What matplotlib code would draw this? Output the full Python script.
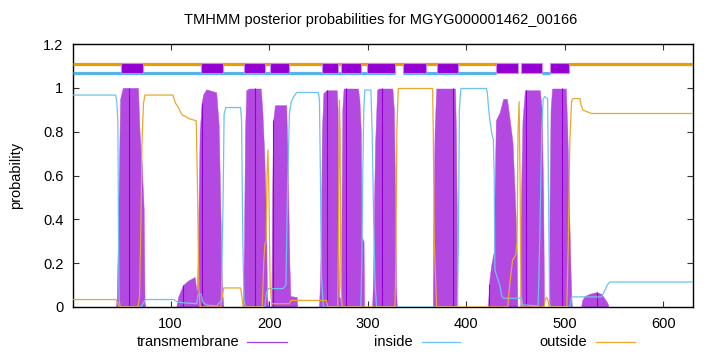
import numpy as np
import matplotlib
matplotlib.use("Agg")
import matplotlib.pyplot as plt
from matplotlib.lines import Line2D
from matplotlib.patches import Rectangle

plt.rcParams['font.family'] = ['Liberation Sans', 'DejaVu Sans']

title = "TMHMM posterior probabilities for MGYG000001462_00166"
seq_len = 630

# transmembrane posterior (residue, probability)
tm_pos = [1, 44.6, 45.5, 47, 48.8, 51.5, 66.9, 68.5, 70.7, 72.7, 73.6, 74.5,
          105.8, 106.5, 108, 112.6, 117.6, 124.4, 126.8, 128.5, 129.5, 131.5, 133, 136.2, 146.3, 148.8, 150.5, 152, 153.5,
          173.4, 174.5, 175.5, 176.8, 180, 191.5, 193, 195, 196.8, 197.8, 199,
          202.1, 203, 204, 205.9, 217.3, 218.5, 219.5, 220.5, 221.5, 227.9, 228.5,
          250.5, 251.5, 252.5, 253.5, 255, 258, 268.5, 269.5, 270.3, 270.8, 272, 272.8,
          273.3, 274.2, 275.5, 290, 291.5, 293, 293.8, 295.8, 296.3,
          304.5, 305.5, 306.5, 307.5, 309.5, 311, 325, 326.5, 327.8, 328.6, 329.5,
          366, 366.6, 367.8, 369.5, 388.5, 389.5, 390.3, 391,
          421.8, 422.5, 423.5, 425.6, 427.8, 429, 430, 434, 437.4, 441.2, 444.2, 446.9, 449.3, 451, 451.8,
          454.8, 455.5, 457, 459.4, 474.6, 476.5, 478, 478.9,
          483.8, 484.5, 485.5, 487, 501, 502.5, 504.5, 506, 507,
          516.5, 517.5, 520, 525, 532, 537, 540, 543, 544.5, 630]
tm_prob = [0, 0, 0.05, 0.45, 0.95, 1.0, 1.0, 0.8, 0.65, 0.45, 0.02, 0,
           0, 0.02, 0.05, 0.10, 0.12, 0.137, 0.06, 0.5, 0.8, 0.93, 0.97, 0.993, 0.98, 0.83, 0.45, 0.1, 0,
           0, 0.3, 0.8, 0.99, 0.997, 0.997, 0.9, 0.7, 0.4, 0.05, 0,
           0, 0.5, 0.85, 0.921, 0.921, 0.7, 0.45, 0.2, 0.05, 0.046, 0,
           0, 0.1, 0.3, 0.8, 0.975, 0.989, 0.989, 0.9, 0.3, 0.05, 0.04, 0,
           0.4, 0.9, 0.997, 0.997, 0.95, 0.8, 0.32, 0.3, 0,
           0, 0.15, 0.5, 0.75, 0.99, 0.997, 0.997, 0.9, 0.5, 0.1, 0,
           0, 0.4, 0.8, 0.997, 0.997, 0.8, 0.45, 0,
           0, 0.05, 0.13, 0.2, 0.25, 0.6, 0.852, 0.89, 0.95, 0.95, 0.85, 0.75, 0.5, 0.3, 0,
           0, 0.5, 0.85, 0.989, 0.989, 0.9, 0.5, 0,
           0, 0.5, 0.9, 0.997, 0.997, 0.8, 0.4, 0.12, 0,
           0, 0.03, 0.05, 0.06, 0.068, 0.06, 0.04, 0.02, 0, 0]

# inside posterior
inside_pos = [1, 44.3, 45.5, 46.5, 47.2, 47.8, 49, 70.3, 72.5, 74.5, 103.6, 106, 111, 126.5, 128, 131, 133, 137,
              147, 149.5, 151.5, 153.3, 154.3, 156, 171, 172, 173.3, 174.5, 176,
              195.7, 197, 199, 214, 217, 218.5, 220.5, 222.4, 225, 228, 249.8, 251, 252, 253, 254.9,
              293, 294, 295, 296, 297.1, 303.2, 304.5, 306, 307.5, 309,
              391, 392, 393, 394.5, 420.6, 421.5, 422.5, 424, 425.6, 427.5, 428.3, 429, 431, 434, 436, 437.5,
              456, 457, 472.9, 474.5, 476.5, 478, 479.7, 482.5, 483.5, 484.5, 485.5,
              505.1, 506.8, 537.2, 540, 543, 545.6, 630]
inside_prob = [0.967, 0.967, 0.93, 0.85, 0.3, 0.03, 0, 0, 0.02, 0.034, 0.034, 0.025, 0.02, 0.015, 0.058, 0.058, 0.02, 0.008,
               0.005, 0.02, 0.03, 0.5, 0.88, 0.91, 0.91, 0.85, 0.3, 0.03, 0,
               0, 0.06, 0.084, 0.084, 0.1, 0.5, 0.88, 0.936, 0.96, 0.979, 0.979, 0.95, 0.6, 0.15, 0,
               0, 0.2, 0.62, 0.9, 0.99, 0.99, 0.8, 0.4, 0.1, 0,
               0, 0.3, 0.9, 0.997, 0.997, 0.97, 0.91, 0.85, 0.8, 0.76, 0.6, 0.17, 0.14, 0.1, 0.05, 0.04,
               0.04, 0.01, 0.005, 0.3, 0.8, 0.95, 0.96, 0.95, 0.5, 0.02, 0,
               0, 0.046, 0.046, 0.07, 0.1, 0.114, 0.114]

# outside posterior
outside_pos = [1, 44.3, 46.5, 47.5, 49, 67, 68.5, 70, 71, 72.5, 74, 102.4, 105, 108, 110, 112, 115, 118, 122, 126,
               127.5, 128.5, 130, 151, 152.5, 153.8, 171, 172.3, 173.5,
               193, 194.5, 195.7, 197, 197.8, 198.8, 199.8, 201, 202.5, 220.5, 222, 258.3, 259.5,
               269.5, 270.3, 271.3, 272, 272.8, 274, 327.6, 328.5, 329.5, 331, 365.8, 366.5, 367.5, 369.9,
               442, 444, 446.9, 450.3, 451.5, 452.5, 453.6, 454.5, 455.5, 456.5, 479, 480, 481.5, 483, 484,
               502, 503.5, 505, 506.8, 508.4, 515.2, 516.5, 518.5, 523, 527.1, 630]
outside_prob = [0.034, 0.034, 0.02, 0.003, 0, 0, 0.05, 0.4, 0.75, 0.93, 0.967, 0.967, 0.93, 0.91, 0.89, 0.875, 0.87, 0.86, 0.855, 0.85,
                0.5, 0.1, 0, 0, 0.05, 0.087, 0.087, 0.05, 0,
                0, 0.2, 0.29, 0.3, 0.6, 0.716, 0.5, 0.1, 0.015, 0.015, 0.03, 0.03, 0,
                0, 0.3, 0.944, 0.8, 0.1, 0, 0, 0.2, 0.8, 0.997, 0.997, 0.8, 0.3, 0,
                0, 0.1, 0.213, 0.24, 0.3, 0.8, 0.937, 0.6, 0.05, 0, 0, 0.03, 0.045, 0.03, 0,
                0, 0.3, 0.75, 0.94, 0.951, 0.951, 0.92, 0.898, 0.89, 0.883, 0.883]

# predicted topology strip at top
helix_start = [50, 131, 174, 201, 254, 273, 299, 336, 370, 430, 456, 485]
helix_end = [72, 153, 196, 220, 270, 293, 328, 359, 392, 452, 477, 504]
inside_seg_start = [1, 336, 477]
inside_seg_end = [328, 430, 485]
outside_seg_start = [1, 504]
outside_seg_end = [452, 630]

# residues where the impulse rendering shows darker lines
dark_pos = [58.1, 112.9, 131.5, 185.9, 204.1, 258.9, 277.9, 314.1, 386.7, 423.2, 460.1, 496.6, 532.7]

c_tm_fill = '#b449e1'
c_tm_dark = '#9400d3'
c_in = '#56b4e9'
c_out = '#e69f00'

fig = plt.figure(figsize=(7.2, 3.52), dpi=100)
ax = fig.add_axes([73/720, 1-307/352, (693-73)/720, (307-44)/352])

ax.fill_between(tm_pos, 0, tm_prob, color=c_tm_fill, lw=0.3, edgecolor=c_tm_fill, zorder=2)
dark_h = np.interp(dark_pos, tm_pos, tm_prob)
ax.vlines(dark_pos, 0, dark_h, color=c_tm_dark, lw=0.8, zorder=3)

ax.plot(inside_pos, inside_prob, color='#6cc2ef', lw=0.9, zorder=4)
ax.plot(outside_pos, outside_prob, color='#eaa72a', lw=0.9, zorder=4)

for s, e in zip(outside_seg_start, outside_seg_end):
    ax.plot([s, e], [1.111, 1.111], color=c_out, lw=2.3, solid_capstyle='butt', zorder=5)
for s, e in zip(inside_seg_start, inside_seg_end):
    ax.plot([s, e], [1.069, 1.069], color=c_in, lw=2.3, solid_capstyle='butt', zorder=5)
for s, e in zip(helix_start, helix_end):
    ax.add_patch(Rectangle((s, 1.066), e - s, 0.047, facecolor=c_tm_dark,
                           edgecolor='#c68ae6', lw=0.8, zorder=6))

ax.set_xlim(1, seq_len)
ax.set_ylim(0, 1.2)
ax.set_xticks([100, 200, 300, 400, 500, 600])
ax.set_yticks([0, 0.2, 0.4, 0.6, 0.8, 1.0, 1.2])
ax.set_yticklabels(['0', '0.2', '0.4', '0.6', '0.8', '1', '1.2'])
ax.tick_params(direction='in', top=True, right=True, length=4, width=0.8,
               labelsize=10.5, pad=7, colors='#333333', labelcolor='black')
for sp in ax.spines.values():
    sp.set_linewidth(1.0)
    sp.set_color('black')

fig.text(380.5/720, 1-20/352, title, ha='center', va='center', fontsize=10.5)
fig.text(16/720, 1-175/352, 'probability', rotation=90, ha='center', va='center', fontsize=10.5)

ly = 1 - 341.5/352
legend_items = [('transmembrane', 239/720, (247/720, 287/720), '#a040d8'),
                ('inside', 413/720, (422/720, 460/720), '#6cc2ef'),
                ('outside', 587/720, (596/720, 635/720), '#eaa72a')]
for label, tx, (x0, x1), col in legend_items:
    fig.text(tx, ly, label, ha='right', va='center', fontsize=10.5)
    fig.add_artist(Line2D([x0, x1], [ly, ly], color=col, lw=0.9, transform=fig.transFigure))

fig.savefig('out.png', dpi=100)
